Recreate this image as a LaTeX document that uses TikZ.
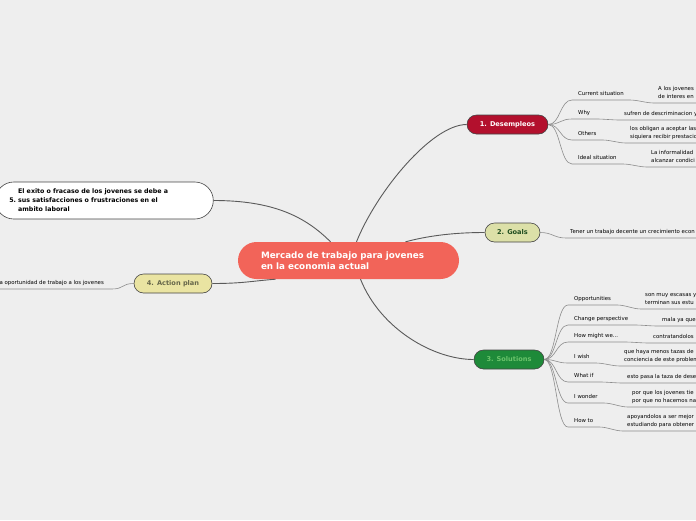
\documentclass[tikz,border=0pt]{standalone}
\usepackage{fontspec}
\setmainfont{DejaVu Sans}
\usetikzlibrary{positioning}

\definecolor{bgcol}{HTML}{EEEEEE}
\definecolor{maincol}{HTML}{F26459}
\definecolor{descol}{HTML}{B3102D}
\definecolor{goalcol}{HTML}{DCE0A8}
\definecolor{goaltxt}{HTML}{1F4D1F}
\definecolor{solcol}{HTML}{1E8A39}
\definecolor{soltxt}{HTML}{6CC46C}
\definecolor{actcol}{HTML}{EAE4A2}
\definecolor{acttxt}{HTML}{66664A}
\definecolor{edgecol}{HTML}{444444}
\definecolor{linkcol}{HTML}{5A5A5A}
\definecolor{subcol}{HTML}{8C8C8C}

\tikzset{
  topic/.style={rectangle,rounded corners=9.5pt,draw=edgecol,line width=0.6pt,
    minimum height=19pt,inner sep=0pt,font=\fontsize{6.6}{8}\selectfont\bfseries},
  lbl/.style={anchor=south west,inner xsep=6pt,inner ysep=3pt,text depth=1.5pt,
    font=\fontsize{5.4}{7.5}\selectfont},
  leaf/.style={lbl,inner xsep=4pt,align=left},
  link/.style={draw=linkcol,line width=0.9pt},
  sublink/.style={draw=subcol,line width=0.6pt}
}

\begin{document}
\begin{tikzpicture}[x=1pt,y=-1pt]
\useasboundingbox (0,0) rectangle (696,520);
\clip (0,0) rectangle (696,520);
\fill[bgcol] (0,0) rectangle (696,520);
\coordinate (redge) at (696,0);
\coordinate (ledge) at (0,0);

% Central topic and main branches
\node[rectangle,rounded corners=18.5pt,fill=maincol,text=white,minimum height=37pt,
  inner xsep=23pt,text width=175pt,align=left,
  font=\fontsize{8.8}{11}\selectfont\bfseries] (main) at (348.5,260.5)
  {Mercado de trabajo para jovenes\\en la economia actual};
\node[topic,fill=descol,text=white,minimum width=81pt] (des) at (507.5,124.5) {1. Desempleos};
\node[topic,fill=goalcol,text=goaltxt,minimum width=55pt] (goal) at (512.5,232.5) {2. Goals};
\node[topic,fill=solcol,text=soltxt,minimum width=70pt] (sol) at (509,359.5) {3. Solutions};
\node[topic,fill=actcol,text=acttxt,minimum width=78pt] (act) at (173,283.5) {4. Action plan};
\node[rectangle,rounded corners=18.5pt,draw=edgecol,line width=0.6pt,fill=white,
  minimum height=37pt,inner xsep=14pt,text width=190pt,align=left,anchor=west,
  font=\fontsize{6.3}{9}\selectfont\bfseries] (exito) at (-5,200.5)
  {5.~\begin{tabular}[c]{@{}l@{}}El exito o fracaso de los jovenes se debe a\\
  sus satisfacciones o frustraciones en el\\ambito laboral\end{tabular}};

\draw[link] ([xshift=8pt]main.north) .. controls +(20,-50) and +(-35,0) .. (des.west);
\draw[link] ([xshift=57pt]main.north) .. controls +(30,-8) and +(-20,0) .. (goal.west);
\draw[link] ([xshift=12pt]main.south) .. controls +(20,50) and +(-40,0) .. (sol.west);
\draw[link] (exito.east) .. controls +(60,0) and +(-25,-25) .. ([xshift=-18pt]main.north);
\draw[link] (act.east) .. controls +(30,0) and +(-25,2) .. ([xshift=-73pt]main.south);

% 1. Desempleos
\node[lbl] (cur) at (572,100) {Current situation};
\node[lbl] (why) at (572,119) {Why};
\node[lbl] (oth) at (572,140) {Others};
\node[lbl] (ide) at (572,164) {Ideal situation};
\node[leaf] (cura) at (654,103) {A los jovenes\\de interes en};
\node[leaf] (whya) at (620,120) {sufren de descriminacion y};
\node[leaf] (otha) at (626,143) {los obligan a aceptar las\\siquiera recibir prestacio};
\node[leaf] (idea) at (647,167) {La informalidad\\alcanzar condici};
\foreach \n in {cur,why,oth,ide} {
  \draw[sublink] (des.east) .. controls +(12,0) and +(-12,0) .. (\n.south west) -- (\n.south east)
    .. controls +(8,0) and +(-8,0) .. (\n a.south west) -- (\n a.south west -| redge);
}

% 2. Goals
\node[leaf] (goala) at (566,238) {Tener un trabajo decente un crecimiento econ};
\draw[sublink] (goal.east) .. controls +(12,0) and +(-12,0) .. (goala.south west) -- (goala.south west -| redge);

% 3. Solutions
\node[lbl] (opp) at (568,305) {Opportunities};
\node[lbl] (chg) at (568,325) {Change perspective};
\node[lbl] (hmw) at (568,342) {How might we...};
\node[lbl] (wsh) at (568,363) {I wish};
\node[lbl] (wif) at (568,382) {What if};
\node[lbl] (wdr) at (568,403) {I wonder};
\node[lbl] (hto) at (568,427) {How to};
\node[leaf] (oppa) at (641,309) {son muy escasas y\\terminan sus estu};
\node[leaf] (chga) at (658,326) {mala ya que};
\node[leaf] (hmwa) at (649,343) {contratandolos};
\node[leaf] (wsha) at (620,366) {que haya menos tazas de\\conciencia de este problem};
\node[leaf] (wifa) at (623,383) {esto pasa la taza de dese};
\node[leaf] (wdra) at (628,407) {por que los jovenes tie\\por que no hacemos na};
\node[leaf] (htoa) at (623,431) {apoyandolos a ser mejor\\estudiando para obtener};
\foreach \n in {opp,chg,hmw,wsh,wif,wdr,hto} {
  \draw[sublink] (sol.east) .. controls +(12,0) and +(-12,0) .. (\n.south west) -- (\n.south east)
    .. controls +(8,0) and +(-8,0) .. (\n a.south west) -- (\n a.south west -| redge);
}

% 4. Action plan
\node[lbl,anchor=south east,inner xsep=8pt] (acta) at (112,289) {a oportunidad de trabajo a los jovenes};
\draw[sublink] (act.west) .. controls +(-12,0) and +(12,0) .. (acta.south east) -- (acta.south east -| ledge);
\end{tikzpicture}
\end{document}
